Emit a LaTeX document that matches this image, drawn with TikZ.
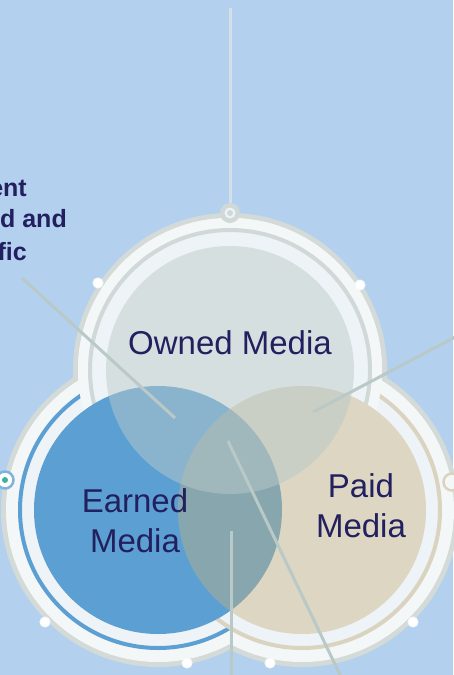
\documentclass[tikz,border=0pt]{standalone}
\usepackage{fontspec}
\setmainfont{Liberation Sans}
\usetikzlibrary{positioning}

\definecolor{skyback}{HTML}{B3D1EE}
\definecolor{rimgray}{HTML}{D3DAD7}
\definecolor{rimwhite}{HTML}{F4F7F7}
\definecolor{bandwhite}{HTML}{EDF3F6}
\definecolor{ownedring}{HTML}{D0D9D7}
\definecolor{earnedblue}{HTML}{5CA0D3}
\definecolor{paidring}{HTML}{DAD3C0}
\definecolor{ownedfill}{HTML}{B8C9C9}
\definecolor{paidfill}{HTML}{BFAE83}
\definecolor{navytext}{HTML}{22205E}
\definecolor{pointergray}{HTML}{B9C9C7}
\definecolor{stemgray}{HTML}{D4E0E8}
\definecolor{tealdot}{HTML}{3FAFA2}

\tikzset{
	media text/.style={text=navytext, font=\fontsize{33}{40}\selectfont, inner sep=0pt, anchor=base},
	side text/.style={text=navytext, font=\bfseries\fontsize{25}{32}\selectfont, inner sep=0pt, anchor=base east},
	pointer/.style={draw=pointergray, line width=3pt},
	rim dot/.style={circle, fill=white, draw=white!85!rimgray, line width=1pt, minimum size=10pt, inner sep=0pt},
}

\begin{document}
\begin{tikzpicture}[x=1pt, y=-1pt]
	\fill[skyback] (0,0) rectangle (453,675);
	\useasboundingbox (0,0) rectangle (453,675);

	% centres of the three circles
	\coordinate (owned) at (230,370);
	\coordinate (earned) at (158,510);
	\coordinate (paid) at (302,510);

	% outer rim
	\foreach \c in {owned,earned,paid}
		\fill[rimgray] (\c) circle[radius=157pt];
	\foreach \c in {owned,earned,paid}
		\fill[rimwhite] (\c) circle[radius=152pt];

	% rings
	\draw[earnedblue, line width=4pt, fill=bandwhite] (earned) circle[radius=138pt];
	\draw[paidring, line width=4pt, fill=bandwhite] (paid) circle[radius=138pt];
	\fill[rimwhite] (owned) circle[radius=152pt];
	\draw[ownedring, line width=4pt, fill=bandwhite] (owned) circle[radius=140pt];

	% circles
	\foreach \c in {owned,earned,paid}
		\fill[rimwhite] (\c) circle[radius=124pt];
	\fill[earnedblue] (earned) circle[radius=124pt];
	\fill[paidfill, fill opacity=0.45] (paid) circle[radius=124pt];
	\fill[ownedfill, fill opacity=0.5] (owned) circle[radius=124pt];

	% dots on the rim
	\foreach \x/\y [count=\i] in {98/283, 360/285, 45/622, 187/663, 270/663, 413/622}
		\node[rim dot] (dot\i) at (\x,\y) {};

	% top stem
	\coordinate (stemtop) at (230,8);
	\node[circle, fill=ownedring, minimum size=20pt, inner sep=0pt] (topknob) at (230,213) {};
	\draw[stemgray, line width=3pt] (stemtop) -- (topknob);
	\node[circle, fill=bandwhite, minimum size=11pt, inner sep=0pt] at (topknob) {};
	\node[circle, fill=ownedring, minimum size=6pt, inner sep=0pt] at (topknob) {};

	% side knobs
	\node[circle, draw=earnedblue!80!white, line width=2.5pt, fill=white, minimum size=17pt, inner sep=0pt] (leftknob) at (5,480) {};
	\node[circle, fill=tealdot, minimum size=6pt, inner sep=0pt] at (leftknob) {};
	\node[circle, draw=paidring, line width=2.5pt, fill=rimwhite, minimum size=17pt, inner sep=0pt] (rightknob) at (452,482) {};

	% pointers
	\coordinate (leftend) at (22,278);
	\coordinate (lefttip) at (175,418);
	\coordinate (rightend) at (463,333);
	\coordinate (righttip) at (313,412);
	\coordinate (midtip) at (228,441);
	\coordinate (midend) at (343,681);
	\coordinate (lowtip) at (231,531);
	\coordinate (lowend) at (231,681);
	\draw[pointer] (leftend) -- (lefttip);
	\draw[pointer] (rightend) -- (righttip);
	\draw[pointer] (midtip) -- (midend);
	\draw[pointer] (lowtip) -- (lowend);

	% labels
	\node[media text] (ownedlabel) at (230,354) {Owned Media};
	\node[media text] (earnedtop) at (135,512) {Earned};
	\node[media text] (earnedlow) at (135,552) {Media};
	\node[media text] (paidtop) at (361,497) {Paid};
	\node[media text] (paidlow) at (361,537) {Media};

	% cut text at the left
	\node[side text] (sideone) at (27,196) {ent};
	\node[side text] (sidetwo) at (67,227) {d and};
	\node[side text] (sidethree) at (27,260) {fic};
\end{tikzpicture}
\end{document}
